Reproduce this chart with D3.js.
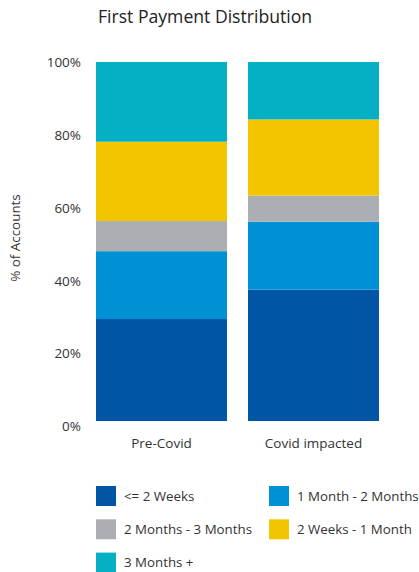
<!DOCTYPE html>
<html>
<head>
<meta charset="utf-8">
<script src="https://cdn.jsdelivr.net/npm/d3@7"></script>
<style>
  html, body { margin: 0; padding: 0; background: #fff; }
  svg { display: block; font-family: "Open Sans", sans-serif; }
</style>
</head>
<body>
<svg id="chart" width="419" height="572"></svg>
<script>
const categories = ["Pre-Covid", "Covid impacted"];
const seriesNames = ["<= 2 Weeks", "1 Month - 2 Months", "2 Months - 3 Months", "2 Weeks - 1 Month", "3 Months +"];
const lessThan2Weeks   = [28.4, 36.6];
const oneToTwoMonths   = [18.9, 18.9];
const twoToThreeMonths = [8.4, 7.3];
const twoWeeksToOneMonth = [22.1, 21.2];
const threeMonthsPlus  = [22.2, 16.0];
const yTicks = [0, 20, 40, 60, 80, 100];
const colors = ["#0055A4", "#0091D5", "#ABAFB3", "#F2C500", "#05AFC4"];

const seriesValues = [lessThan2Weeks, oneToTwoMonths, twoToThreeMonths, twoWeeksToOneMonth, threeMonthsPlus];
const table = categories.map((c, i) => {
  const row = { category: c };
  seriesNames.forEach((s, j) => row[s] = seriesValues[j][i]);
  return row;
});

const svg = d3.select("#chart");

const x = d3.scaleBand().domain(categories).range([96, 379]).paddingInner(0.138).paddingOuter(0);
const y = d3.scaleLinear().domain([0, 100]).range([421, 62]);
const yLabel = d3.scaleLinear().domain([0, 100]).range([426.3, 62.5]);

const stack = d3.stack().keys(seriesNames);
const layers = stack(table);

svg.append("g").selectAll("g").data(layers).join("g")
  .attr("fill", (d, i) => colors[i])
  .selectAll("rect").data(d => d).join("rect")
  .attr("x", d => x(d.data.category))
  .attr("width", x.bandwidth())
  .attr("y", d => y(d[1]))
  .attr("height", d => y(d[0]) - y(d[1]));

const yAxis = svg.append("g").attr("transform", "translate(81,0)")
  .call(d3.axisLeft(yLabel).tickValues(yTicks).tickFormat(d => d + "%").tickSize(0).tickPadding(0));
yAxis.select(".domain").remove();
yAxis.selectAll("text").attr("font-size", 13.5).attr("fill", "#333").attr("font-family", "Open Sans");

const xAxis = svg.append("g").attr("transform", "translate(0,421)")
  .call(d3.axisBottom(x).tickSize(0).tickPadding(0));
xAxis.select(".domain").remove();
xAxis.selectAll("text").attr("font-size", 13.5).attr("fill", "#333").attr("font-family", "Open Sans")
  .attr("y", 27).attr("dy", 0);

svg.append("text").attr("x", 98).attr("y", 23).attr("font-size", 17.6).attr("fill", "#222")
  .text("First Payment Distribution");

svg.append("text").attr("transform", "translate(20,238) rotate(-90)")
  .attr("text-anchor", "middle").attr("font-size", 13.4).attr("fill", "#333")
  .text("% of Accounts");

const legendOrder = [0, 1, 2, 3, 4];
const legend = svg.append("g");
legendOrder.forEach((si, k) => {
  const col = k % 2, row = Math.floor(k / 2);
  const gx = col === 0 ? 96 : 269;
  const gy = 486 + row * 33.3;
  const g = legend.append("g").attr("transform", `translate(${gx},${gy})`);
  g.append("rect").attr("width", 20).attr("height", 20).attr("fill", colors[si]);
  g.append("text").attr("x", 28).attr("y", 10).attr("dy", "0.35em").attr("font-size", 13.3).attr("fill", "#333")
    .text(seriesNames[si]);
});
</script>
</body>
</html>
